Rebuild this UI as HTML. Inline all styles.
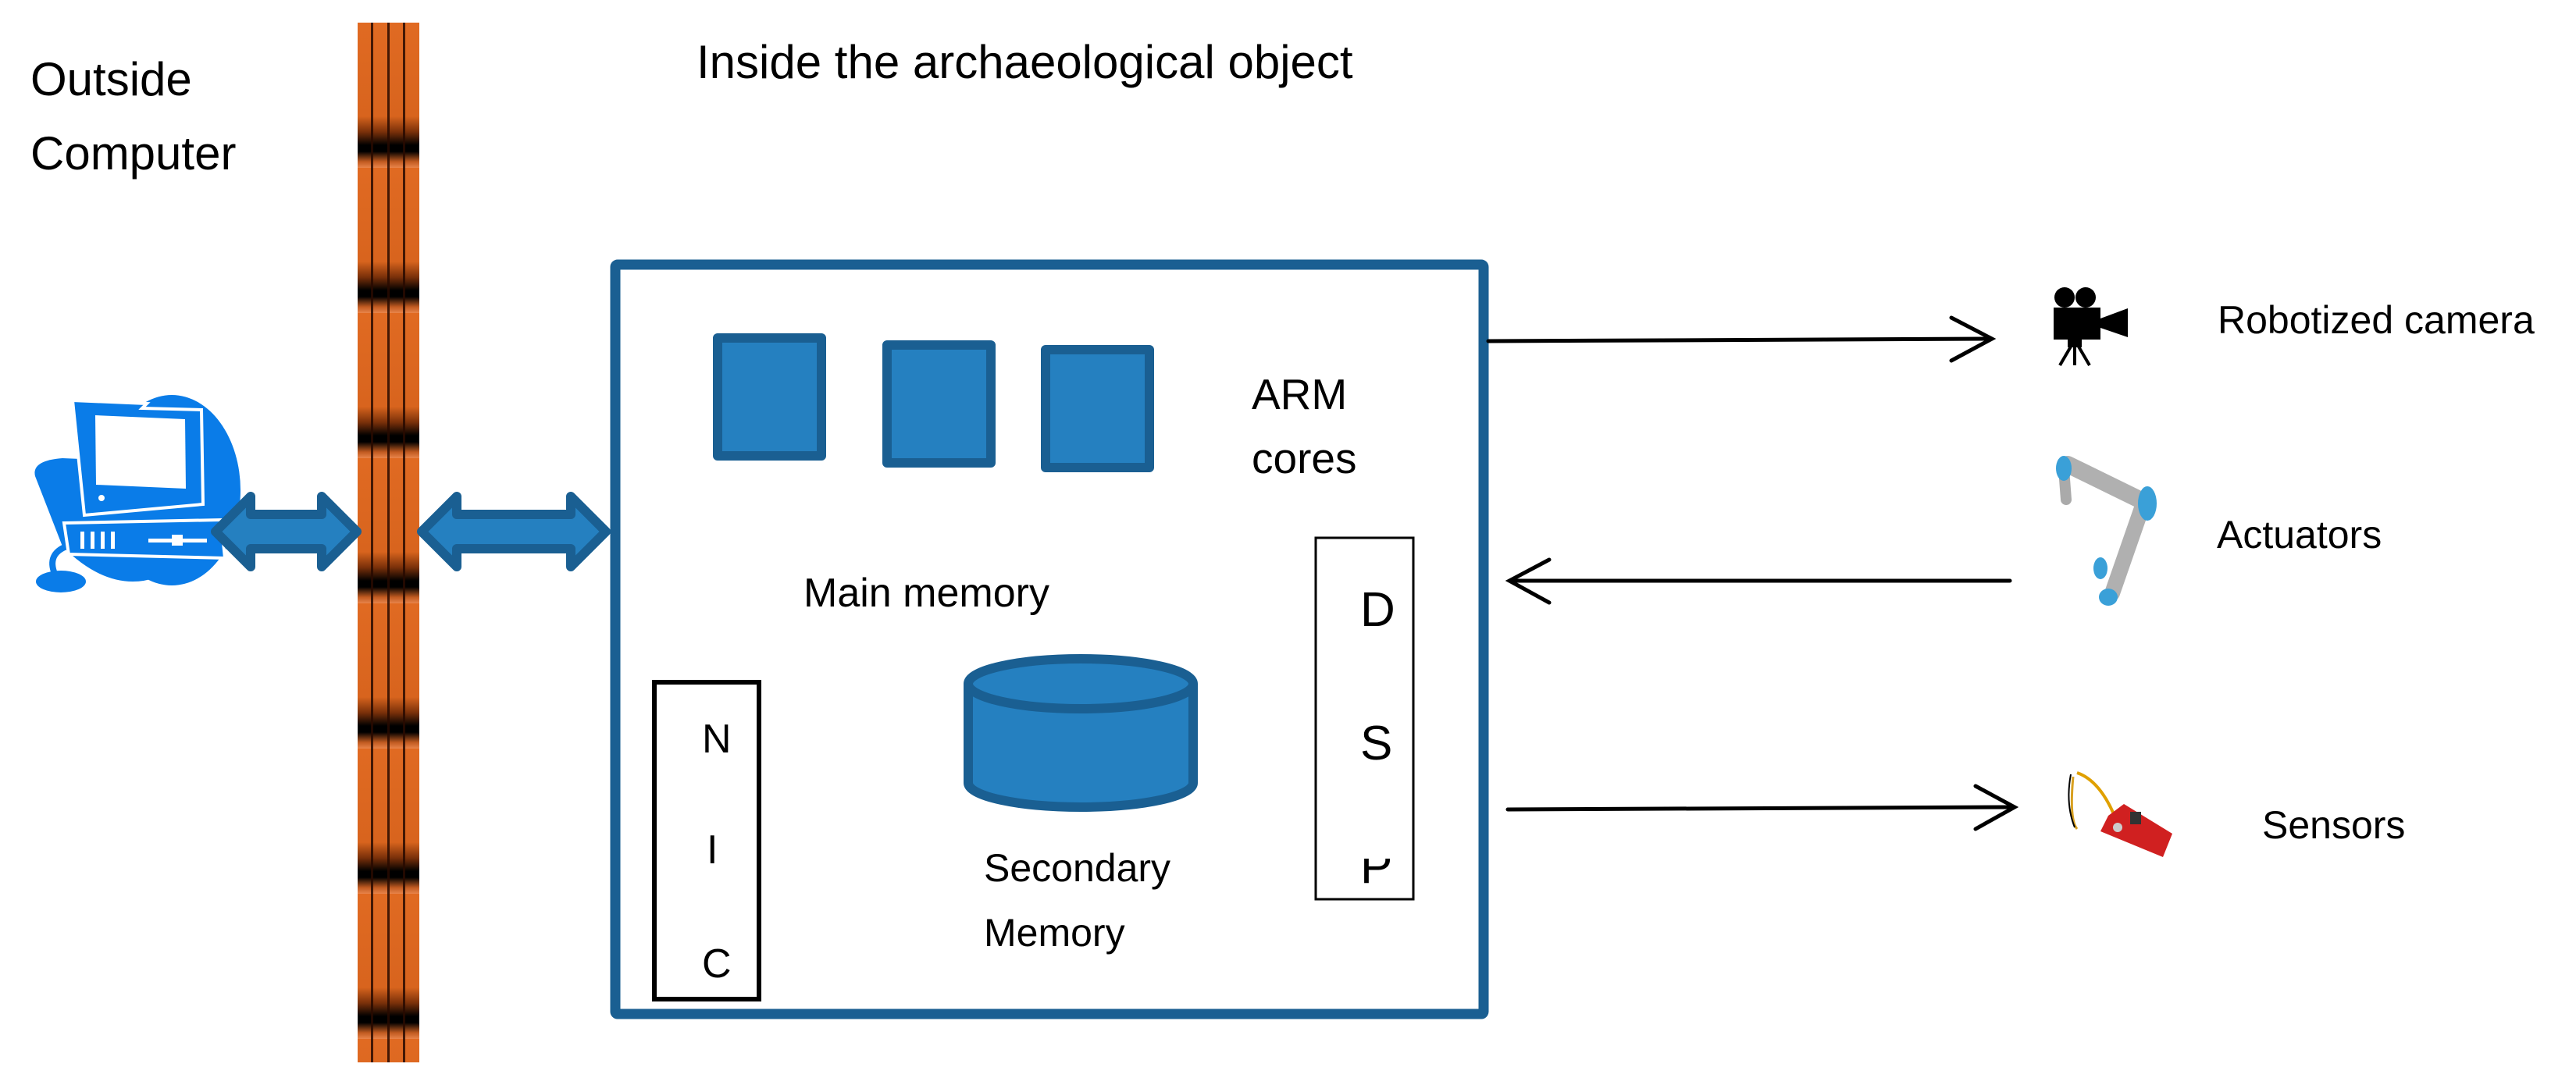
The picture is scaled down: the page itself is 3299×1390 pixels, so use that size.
<!DOCTYPE html>
<html><head><meta charset="utf-8"><style>
html,body{margin:0;padding:0;background:#fff;}
body{width:3299px;height:1390px;position:relative;overflow:hidden;font-family:"Liberation Sans",sans-serif;}
.t{position:absolute;font-size:55px;color:#000;white-space:nowrap;line-height:1;}
#bar{position:absolute;left:458px;top:29px;width:79px;height:1332px;
background:
repeating-linear-gradient(90deg,rgba(0,0,0,0) 0 17px,rgba(40,10,0,.85) 17px 20px,rgba(0,0,0,0) 20px 38px,rgba(40,10,0,.85) 38px 41px,rgba(0,0,0,0) 41px 58px,rgba(40,10,0,.85) 58px 61px,rgba(0,0,0,0) 61px 79px),
repeating-linear-gradient(180deg,#e06a22 0px,#d8641e 120px,#7a300a 140px,#000 157px,#000 165px,#c05a20 178px,#e8844a 186px);
}
</style></head><body>
<div class="t" style="left:39px;top:72px;font-size:60px;">Outside</div>
<div class="t" style="left:39px;top:167px;font-size:60px;">Computer</div>
<div class="t" style="left:892px;top:50px;font-size:60px;">Inside the archaeological object</div>

<div id="bar"></div>

<svg width="3299" height="1390" style="position:absolute;left:0;top:0" xmlns="http://www.w3.org/2000/svg">
 <g>
  <ellipse cx="220" cy="628" rx="88" ry="122" fill="#0a7ce8"/>
  <path d="M45 610 Q40 590 80 587 L150 590 L200 740 Q140 760 80 700 Z" fill="#0a7ce8"/>
  <ellipse cx="78" cy="745" rx="32" ry="14" fill="#0a7ce8"/>
  <path d="M70 735 Q60 710 85 700" stroke="#0a7ce8" stroke-width="8" fill="none"/>
  <polygon points="93,513 188,517 182,523 258,525 260,646 108,660" fill="#0a7ce8" stroke="#fff" stroke-width="4"/>
  <polygon points="122,532 237,537 238,626 123,621" fill="#fff"/>
  <circle cx="130" cy="638" r="4" fill="#fff"/>
  <polygon points="82,670 283,666 288,715 88,710" fill="#0a7ce8" stroke="#fff" stroke-width="4"/>
  <rect x="103" y="681" width="5" height="22" fill="#fff"/><rect x="116" y="681" width="5" height="22" fill="#fff"/><rect x="129" y="681" width="5" height="22" fill="#fff"/><rect x="142" y="681" width="5" height="22" fill="#fff"/>
  <rect x="190" y="690" width="75" height="5" fill="#fff"/><rect x="220" y="685" width="14" height="14" fill="#fff"/>
 </g>
 <g fill="#2580c0" stroke="#1a5f92" stroke-width="12" stroke-linejoin="round">
  <polygon points="276,681 321,636 321,659 412,659 412,636 457,681 412,726 412,703 321,703 321,726"/>
  <polygon points="540,681 585,636 585,659 731,659 731,636 776,681 731,726 731,703 585,703 585,726"/>
 </g>
 <rect x="788" y="339" width="1112" height="960" fill="#fff" stroke="#1a5f92" stroke-width="13" rx="3"/>
 <g fill="#2580c0" stroke="#1a5f92" stroke-width="12" stroke-linejoin="round">
  <rect x="919" y="433" width="133" height="151"/>
  <rect x="1136" y="442" width="133" height="151"/>
  <rect x="1339" y="448" width="133" height="151"/>
 </g>
 <rect x="838" y="874" width="134" height="406" fill="#fff" stroke="#000" stroke-width="6"/>
 <rect x="1685" y="689" width="125" height="463" fill="#fff" stroke="#000" stroke-width="3"/>
 <g fill="#2580c0" stroke="#1a5f92" stroke-width="12">
  <path d="M1240 876 L1240 1003 A144 31 0 0 0 1528 1003 L1528 876"/>
  <ellipse cx="1384" cy="876" rx="144" ry="32"/>
 </g>
 <g stroke="#000" stroke-width="5" fill="none" stroke-linecap="round">
  <line x1="1906" y1="437" x2="2550" y2="434"/>
  <polyline points="2499,407 2551,434 2499,462"/>
  <line x1="2574" y1="744" x2="1935" y2="744"/>
  <polyline points="1984,717 1933,744 1984,772"/>
  <line x1="1931" y1="1037" x2="2577" y2="1034"/>
  <polyline points="2530,1007 2580,1034 2530,1062"/>
 </g>
 <g fill="#000">
  <circle cx="2644" cy="381" r="13"/><circle cx="2671" cy="381" r="13"/>
  <rect x="2630" y="394" width="60" height="41"/>
  <polygon points="2690,408 2725,395 2725,432 2690,420"/>
  <rect x="2648" y="435" width="18" height="10"/>
  <line x1="2652" y1="444" x2="2638" y2="468" stroke="#000" stroke-width="4"/>
  <line x1="2662" y1="444" x2="2676" y2="468" stroke="#000" stroke-width="4"/>
  <line x1="2657" y1="444" x2="2657" y2="468" stroke="#000" stroke-width="4"/>
 </g>
 <g stroke-linecap="round">
  <line x1="2648" y1="595" x2="2740" y2="640" stroke="#b0b0b0" stroke-width="22"/>
  <line x1="2745" y1="645" x2="2705" y2="760" stroke="#b0b0b0" stroke-width="20"/>
  <line x1="2643" y1="600" x2="2646" y2="640" stroke="#aaa" stroke-width="14"/>
  <ellipse cx="2643" cy="600" rx="10" ry="16" fill="#3aa0d8"/>
  <ellipse cx="2750" cy="645" rx="12" ry="22" fill="#3aa0d8"/>
  <ellipse cx="2700" cy="765" rx="12" ry="11" fill="#3aa0d8"/>
  <ellipse cx="2690" cy="728" rx="9" ry="14" fill="#3aa0d8"/>
 </g>
 <g>
  <path d="M2655 995 Q2650 1050 2660 1062" stroke="#d8a020" stroke-width="3" fill="none"/>
  <path d="M2660 990 Q2690 1000 2710 1050" stroke="#e0a000" stroke-width="4" fill="none"/>
  <path d="M2652 992 Q2645 1030 2657 1060" stroke="#000" stroke-width="2" fill="none"/>
  <polygon points="2700,1045 2720,1030 2782,1068 2770,1098 2690,1065" fill="#d02020"/>
  <rect x="2728" y="1040" width="14" height="16" fill="#333"/>
  <circle cx="2712" cy="1060" r="6" fill="#ccc"/>
 </g>
</svg>

<div class="t" style="left:1603px;top:478px;">ARM</div>
<div class="t" style="left:1603px;top:560px;">cores</div>
<div class="t" style="left:1029px;top:734px;font-size:52px;">Main memory</div>
<div class="t" style="left:1260px;top:1087px;font-size:50px;">Secondary</div>
<div class="t" style="left:1260px;top:1170px;font-size:50px;">Memory</div>
<div class="t" style="left:899px;top:921px;font-size:52px;">N</div>
<div class="t" style="left:905px;top:1063px;font-size:52px;">I</div>
<div class="t" style="left:899px;top:1209px;font-size:52px;">C</div>
<div class="t" style="left:1742px;top:751px;font-size:62px;">D</div>
<div class="t" style="left:1742px;top:922px;font-size:62px;">S</div>
<div style="position:absolute;left:1742px;top:1100px;width:60px;height:49px;overflow:hidden;"><div class="t" style="left:0;top:-20px;font-size:62px;position:absolute;">P</div></div>
<div class="t" style="left:2840px;top:385px;font-size:50px;">Robotized camera</div>
<div class="t" style="left:2839px;top:660px;font-size:50px;">Actuators</div>
<div class="t" style="left:2897px;top:1032px;font-size:50px;">Sensors</div>
</body></html>
